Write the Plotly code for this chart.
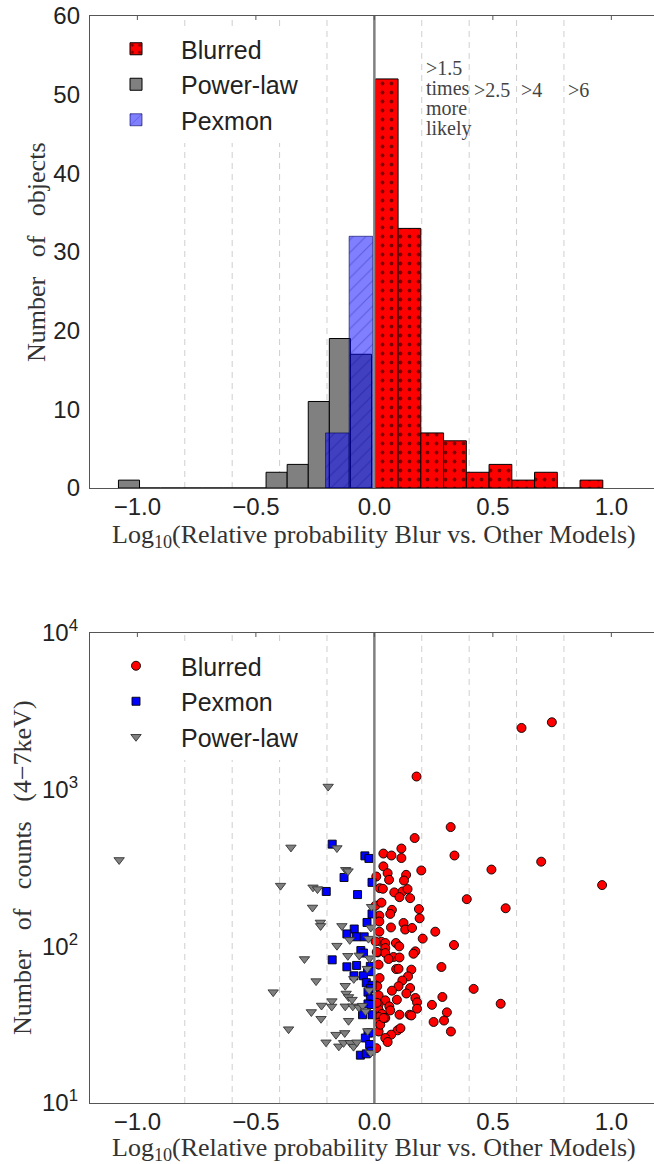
import numpy as np
import plotly.graph_objects as go

# ---------------- data: histogram (top panel) ----------------
blur_hist_counts = [52, 33, 7, 6, 2, 3, 1, 2, 0, 1]
blur_bin_start, blur_bin_width = 0.004, 0.096
powerlaw_hist_counts = [1, 0, 0, 0, 0, 0, 0, 2, 3, 11, 19, 17]
powerlaw_bin_start, powerlaw_bin_width = -1.080, 0.089
pexmon_hist_counts = [7, 32]
pexmon_bin_start, pexmon_bin_width = -0.206, 0.0995

# ---------------- data: scatter (bottom panel) ----------------
blur_x = [0.621, 0.749, 0.178, 0.322, 0.170, 0.114, 0.038, 0.072, 0.114, 0.338,
          0.704, 0.494, 0.198, 0.038, 0.056, 0.134, 0.062, 0.008, 0.961, 0.023,
          0.036, 0.084, 0.119, 0.140, 0.106, 0.151, 0.390, 0.074, 0.067, 0.188,
          0.191, 0.021, 0.021, 0.070, 0.123, 0.130, 0.159, 0.021, 0.257, 0.204,
          0.029, 0.046, 0.091, 0.046, 0.336, 0.014, 0.046, 0.173, 0.165, 0.081,
          0.106, 0.060, 0.018, 0.092, 0.156, 0.283, 0.554, 0.102, 0.022, 0.142,
          0.118, 0.102, 0.074, 0.151, 0.018, 0.046, 0.095, 0.173, 0.180, 0.180,
          0.287, 0.243, 0.306, 0.018, 0.018, 0.063, 0.067, 0.032, 0.018, 0.046,
          0.106, 0.149, 0.156, 0.250, 0.294, 0.018, 0.323, 0.098, 0.071, 0.046,
          0.056, 0.018, 0.419, 0.533, 0.025, 0.005, 0.005, 0.010, 0.012, 0.010,
          0.039, 0.008, 0.030, 0.125, 0.105, 0.135, 0.110]
blur_cts = [2477, 2693, 1213, 577, 491, 421, 391, 380, 366, 380,
            347, 309, 305, 324, 293, 286, 266, 279, 246, 235,
            233, 221, 224, 232, 206, 203, 200, 171, 161, 173,
            151, 157, 144, 132, 141, 128, 131, 124, 124, 112,
            107, 105, 105, 97.5, 102, 91.4, 90.6, 92.9, 89.7, 85.5,
            84.9, 83, 76.4, 71.6, 71, 73.8, 175, 71.9, 62.8, 64.3,
            60.5, 55.6, 52.1, 54.2, 48.6, 45.2, 45.6, 46.8, 43.9, 40,
            47.5, 42.3, 37.9, 42.5, 39.4, 41.4, 39, 37, 35.4, 34.9,
            36.6, 36.6, 36.2, 32.9, 33.6, 32.5, 28.6, 29.1, 27.3, 26,
            24.5, 28.6, 53.5, 43, 31.6, 182, 107.4, 92, 55.6, 43.6,
            34.9, 22.4, 190, 263, 100, 50, 30]

pexmon_x = [-0.178, -0.040, -0.023, -0.128, -0.010, -0.203, -0.071, -0.010, -0.031, -0.085,
            -0.116, -0.076, -0.043, -0.057, -0.046, -0.178, -0.017, -0.116, -0.075, -0.029,
            -0.017, -0.086, -0.046, -0.034, -0.010, -0.017, -0.027, -0.017, -0.027, -0.012,
            -0.050, -0.010, -0.027, -0.015, -0.038, -0.020, -0.059, -0.034, -0.014]
pexmon_cts = [449, 378, 364, 275, 256, 224, 214, 161, 142, 129,
              120, 115, 115, 94, 90.6, 82, 74.5, 74, 75.5, 69.8,
              68.9, 64.9, 64.9, 58.6, 56.4, 53.7, 51, 46.2, 42.9, 42.5,
              36.6, 36.6, 28, 28, 26, 23.6, 20.2, 20.6, 21.4]

powerlaw_x = [-1.077, -0.195, -0.352, -0.158, -0.121, -0.111, -0.396, -0.259, -0.240, -0.261,
              -0.228, -0.227, -0.137, -0.012, -0.015, -0.104, -0.158, -0.295, -0.112, -0.064,
              -0.020, -0.246, -0.087, -0.427, -0.123, -0.119, -0.109, -0.094, -0.179, -0.180,
              -0.223, -0.123, -0.091, -0.065, -0.050, -0.037, -0.266, -0.225, -0.109, -0.362,
              -0.162, -0.125, -0.204, -0.150, -0.130, -0.102, -0.088, -0.074, -0.015, -0.025,
              -0.030, -0.022, -0.028]
powerlaw_cts = [356, 1047, 428, 424, 308, 302, 244, 238, 232, 177,
                142, 135, 135, 179, 132, 110, 101, 83, 87, 87.5,
                84, 60, 62, 51, 56, 50, 47.5, 45.7, 44.7, 41.3,
                41.9, 41.4, 41.4, 40.7, 41.8, 38.5, 38.1, 34.5, 33.5, 29.6,
                27.3, 28, 24.4, 23, 24.2, 24.2, 22.9, 24.4, 20.9, 112,
                72, 52.5, 28.8]

# ---------------- reference lines & labels ----------------
threshold_lines = [-0.8, -0.6, -0.4, -0.2, 0.2, 0.4, 0.6, 0.8]
threshold_labels = [">1.5", ">2.5", ">4", ">6"]
first_label_extra = ["times", "more", "likely"]

x_tickvals = [-1.0, -0.5, 0.0, 0.5, 1.0]
x_ticktext = ["\u22121.0", "\u22120.5", "0.0", "0.5", "1.0"]
y1_tickvals = [0, 10, 20, 30, 40, 50, 60]
y2_tickvals = [10, 100, 1000, 10000]
y2_ticktext = ["10<sup>1</sup>", "10<sup>2</sup>", "10<sup>3</sup>", "10<sup>4</sup>"]


def bin_centers(start, width, n):
    return [start + width * (i + 0.5) for i in range(n)]


SANS = "Liberation Sans, Arial, sans-serif"
SERIF = "Liberation Serif, Times New Roman, serif"
SPINE = "#555555"
TICKC = "#222222"

fig = go.Figure()

# ---- histogram ----
fig.add_trace(go.Bar(
    x=bin_centers(blur_bin_start, blur_bin_width, len(blur_hist_counts)),
    y=blur_hist_counts, width=blur_bin_width, name="Blurred",
    marker=dict(color="#ff0000", line=dict(color="black", width=1),
                pattern=dict(shape=".", fgcolor="black", size=9, solidity=0.14,
                             fillmode="overlay")),
    xaxis="x", yaxis="y", legend="legend"))
fig.add_trace(go.Bar(
    x=bin_centers(powerlaw_bin_start, powerlaw_bin_width, len(powerlaw_hist_counts)),
    y=powerlaw_hist_counts, width=powerlaw_bin_width, name="Power-law",
    marker=dict(color="#808080", line=dict(color="black", width=1)),
    xaxis="x", yaxis="y", legend="legend"))
fig.add_trace(go.Bar(
    x=bin_centers(pexmon_bin_start, pexmon_bin_width, len(pexmon_hist_counts)),
    y=pexmon_hist_counts, width=pexmon_bin_width, name="Pexmon",
    marker=dict(color="rgba(0,0,255,0.5)", line=dict(color="rgba(0,0,90,0.6)", width=1),
                pattern=dict(shape="/", fgcolor="rgba(0,0,140,0.55)", size=9, solidity=0.12,
                             fillmode="overlay")),
    xaxis="x", yaxis="y", legend="legend"))

# ---- scatter ----
fig.add_trace(go.Scatter(
    x=blur_x, y=blur_cts, mode="markers", name="Blurred",
    marker=dict(symbol="circle", size=9, color="#ff0000", line=dict(color="black", width=0.9)),
    xaxis="x2", yaxis="y2", legend="legend2"))
fig.add_trace(go.Scatter(
    x=pexmon_x, y=pexmon_cts, mode="markers", name="Pexmon",
    marker=dict(symbol="square", size=8, color="#0000ff", line=dict(color="black", width=0.9)),
    xaxis="x2", yaxis="y2", legend="legend2"))
fig.add_trace(go.Scatter(
    x=powerlaw_x, y=powerlaw_cts, mode="markers", name="Power-law",
    marker=dict(symbol="triangle-down", size=9, color="#808080", line=dict(color="#333333", width=0.9)),
    xaxis="x2", yaxis="y2", legend="legend2"))

# ---- geometry (pixels) ----
W, H = 654, 1164
ML, MR, MT, MB = 90, 0, 16, 61
PW, PH = W - ML - MR, H - MT - MB


def py(pix):
    return (H - MB - pix) / PH


def px(pix):
    return (pix - ML) / PW


top_dom = [py(488), 1.0]
bot_dom = [0.0, py(633)]
xrange_ = [-1.2, 1.18]

common_x = dict(range=xrange_, tickvals=x_tickvals, ticktext=x_ticktext, ticks="",
                showline=True, linecolor=SPINE, linewidth=1.3, mirror=True,
                showgrid=False, zeroline=False, automargin=False, ticklabelstandoff=-3,
                tickfont=dict(family=SANS, size=24, color=TICKC))

fig.update_layout(
    width=W, height=H, margin=dict(l=ML, r=MR, t=MT, b=MB, autoexpand=False),
    paper_bgcolor="white", plot_bgcolor="white", barmode="overlay",
    xaxis=dict(domain=[0, 1], anchor="y", **common_x),
    yaxis=dict(domain=top_dom, anchor="x", range=[0, 60], tickvals=y1_tickvals, ticks="",
               showline=True, linecolor=SPINE, linewidth=1.3, mirror=False,
               showgrid=False, zeroline=False, ticklabelstandoff=4, automargin=False,
               tickfont=dict(family=SANS, size=24, color=TICKC)),
    xaxis2=dict(domain=[0, 1], anchor="y2", **common_x),
    yaxis2=dict(domain=bot_dom, anchor="x2", type="log", range=[1, 4],
                tickvals=y2_tickvals, ticktext=y2_ticktext, ticks="",
                showline=True, linecolor=SPINE, linewidth=1.3, mirror=False,
                showgrid=False, zeroline=False, ticklabelstandoff=6, automargin=False,
                tickfont=dict(family=SANS, size=24, color=TICKC)),
    legend=dict(x=px(91), y=py(26), xanchor="left", yanchor="top", bgcolor="white",
                borderwidth=0, itemwidth=80, font=dict(family=SANS, size=25, color="#222222")),
    legend2=dict(x=px(91), y=py(643), xanchor="left", yanchor="top", bgcolor="white",
                 borderwidth=0, itemwidth=80, font=dict(family=SANS, size=25, color="#222222")),
    showlegend=True,
)

shapes = []
tick_len_px = 4
for xr, yr, dom in (("x", "y domain", top_dom), ("x2", "y2 domain", bot_dom)):
    for xv in threshold_lines:
        shapes.append(dict(type="line", xref=xr, yref=yr, x0=xv, x1=xv, y0=0, y1=1,
                           layer="below", line=dict(color="#cfcfcf", width=1, dash="6px,5px")))
    shapes.append(dict(type="line", xref=xr, yref=yr, x0=0, x1=0, y0=0, y1=1,
                       layer="above", line=dict(color="#808080", width=2.5)))
    # inward tick marks on the top spine
    frac = tick_len_px / ((dom[1] - dom[0]) * PH)
    for xv in x_tickvals:
        shapes.append(dict(type="line", xref=xr, yref=yr, x0=xv, x1=xv, y0=1, y1=1 - frac,
                           layer="above", line=dict(color=SPINE, width=1)))
fig.update_layout(shapes=shapes)

ann = []
title_font = dict(family=SERIF, size=26, color="#333333")
xtitle = "Log<sub>10</sub>(Relative probability Blur vs. Other Models)"
ann.append(dict(text=xtitle, xref="paper", yref="paper", x=px(374), y=py(536),
                xanchor="center", yanchor="middle", showarrow=False, font=title_font))
ann.append(dict(text=xtitle, xref="paper", yref="paper", x=px(374), y=py(1149),
                xanchor="center", yanchor="middle", showarrow=False, font=title_font))
sp = "\u00a0\u00a0\u00a0"
ann.append(dict(text=f"Number{sp}of{sp}objects", xref="paper", yref="paper",
                x=px(37), y=py(252), textangle=-90, xanchor="center", yanchor="middle",
                showarrow=False, font=title_font))
ann.append(dict(text=f"Number{sp}of{sp}counts{sp}(4\u22127keV)", xref="paper", yref="paper",
                x=px(22), y=py(868), textangle=-90, xanchor="center", yanchor="middle",
                showarrow=False, font=title_font))

lab_font = dict(family=SERIF, size=20, color="#444444")
pos_lines = [v for v in threshold_lines if v > 0]
label_rows = [py(68), py(90), py(90), py(90)]
for xv, lab, yrow in zip(pos_lines, threshold_labels, label_rows):
    ann.append(dict(text=lab, xref="x", yref="paper", x=xv + 0.01, y=yrow,
                    xanchor="left", yanchor="middle", showarrow=False, font=lab_font))
for i, word in enumerate(first_label_extra):
    ann.append(dict(text=word, xref="x", yref="paper", x=pos_lines[0] + 0.01,
                    y=py(88 + 20 * i), xanchor="left", yanchor="middle",
                    showarrow=False, font=lab_font))
fig.update_layout(annotations=ann)

fig.write_html("out.html", config={"displayModeBar": False},
               post_script="document.body.style.margin='0';document.body.style.padding='0';")
